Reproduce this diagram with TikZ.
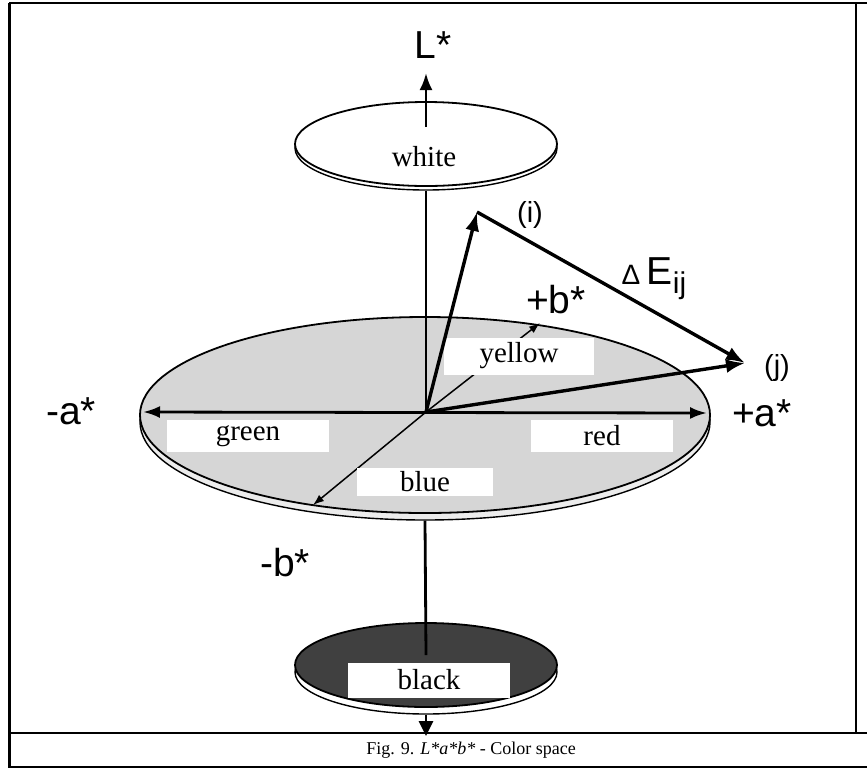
\documentclass[tikz,border=0pt]{standalone}
\usepackage{fontspec}
\setmainfont{Liberation Serif}
\setsansfont{Liberation Sans}
\usetikzlibrary{arrows.meta, shapes.geometric}

\begin{document}
\begin{tikzpicture}[
    x=1pt, y=-1pt,
    disc/.style={ellipse, draw, line width=1.8pt, inner sep=0pt},
    rim/.style={disc, line width=1.4pt},
    axis/.style={line width=2.8pt},
    baxis/.style={line width=1.5pt, -{Latex[length=11pt,width=8pt]}},
    vec/.style={line width=3.4pt, -{Latex[length=19pt,width=14pt]}},
    tag/.style={fill=white, inner sep=0pt, font=\fontsize{29}{29}\selectfont},
    lbl/.style={font=\sffamily\fontsize{39}{39}\selectfont},
    ptlbl/.style={font=\sffamily\fontsize{29}{29}\selectfont}
]
    \useasboundingbox (0,0) rectangle (867,772);

    % Cornice della tabella
    \draw[line width=2.6pt] (9,3) -- (867,3);
    \draw[line width=3pt] (9,3) -- (9,768);
    \draw[line width=1.5pt] (856,3) -- (856,733);
    \draw[line width=2pt] (9,733) -- (867,733);
    \draw[line width=2pt] (9,767) -- (867,767);

    % Punti di riferimento
    \coordinate (O) at (426,412);
    \coordinate (Lbase) at (426,127);
    \coordinate (Ltip) at (426,73);
    \coordinate (Ldown) at (426,736);
    \coordinate (blkend) at (426,655);
    \coordinate (ma) at (143,412);
    \coordinate (pa) at (707,413);
    \coordinate (pb) at (540,323);
    \coordinate (mb) at (313,505);
    \coordinate (pi) at (477,212);
    \coordinate (pj) at (745,363);

    % Dischi: bianco, piano a*b*, nero
    \node[rim, fill=white, minimum width=262, minimum height=84] (whiterim) at (426,148) {};
    \node[disc, fill=white, minimum width=262, minimum height=84] (white) at (426,144) {};
    \node[rim, fill=gray!15, minimum width=570, minimum height=196] (mainrim) at (425,422) {};
    \node[disc, fill=gray!32, minimum width=570, minimum height=196] (main) at (425,415) {};
    \node[rim, fill=white, minimum width=262, minimum height=84] (blackrim) at (426,672) {};
    \node[disc, fill=black!75, minimum width=262, minimum height=84] (black) at (426,665) {};

    % Asse L*
    \draw[axis] (whiterim.south) -- (O);
    \draw[axis] (mainrim.south) -- (blkend);
    \draw[axis, -{Latex[length=17pt,width=13pt]}] (Lbase) -- (Ltip);
    \draw[axis, -{Triangle[length=15pt,width=14pt]}] (blackrim.south) -- (Ldown);

    % Asse b*
    \draw[baxis] (O) -- (pb);
    \draw[baxis] (O) -- (mb);

    % Etichette dei colori
    \node[tag, minimum width=150, minimum height=37] (yellow) at (519,356) {yellow};
    \node[tag, minimum width=162, minimum height=32] (green) at (248,436) {green};
    \node[tag, minimum width=142, minimum height=32] (red) at (602,436) {red};
    \node[tag, minimum width=136, minimum height=28] (blue) at (425,482) {blue};
    \node[tag, minimum width=162, minimum height=35] (blk) at (429,680) {black};
    \node[font=\fontsize{29}{29}\selectfont] (wlbl) at (424,157) {white};

    % Asse a* e vettori
    \draw[axis, {Latex[length=17pt,width=12pt]}-{Latex[length=17pt,width=12pt]}] (ma) -- (pa);
    \draw[vec] (O) -- (pi);
    \draw[vec] (O) -- (pj);
    \draw[vec] (pi) -- (pj);

    % Nomi degli assi e dei punti
    \node[lbl] (Lstar) at (433,45) {L*};
    \node[lbl] (mastar) at (71,411) {-a*};
    \node[lbl] (pastar) at (762,413) {+a*};
    \node[lbl] (mbstar) at (285,563) {-b*};
    \node[lbl] (pbstar) at (556,300) {+b*};
    \node[ptlbl] (ilbl) at (530,215) {(i)};
    \node[ptlbl] (jlbl) at (777,368) {(j)};
    \node[lbl] (dE) at (654,279) {{\fontsize{28}{28}\selectfont Δ}\,E\raisebox{-9pt}{\fontsize{30}{30}\selectfont ij}};

    % Didascalia
    \node[font=\fontsize{18}{18}\selectfont] (caption) at (471,750) {Fig. 9. \textit{L*a*b*} - Color space};
\end{tikzpicture}
\end{document}
